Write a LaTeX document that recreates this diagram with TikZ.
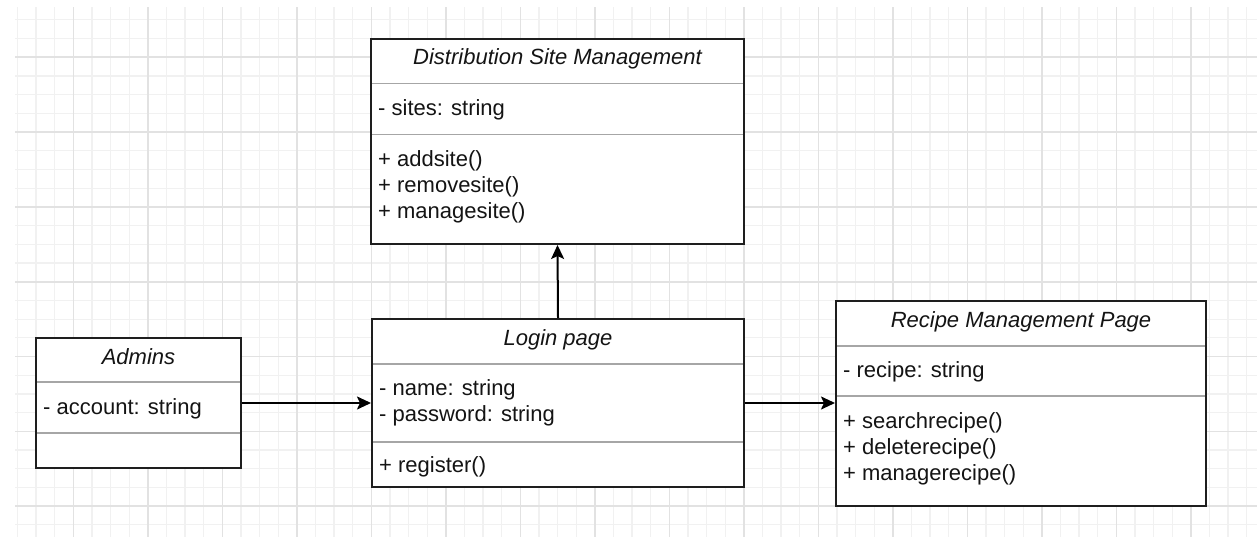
\documentclass[tikz,border=0pt]{standalone}
\usepackage{fontspec}
\setmainfont{Liberation Sans}
\usetikzlibrary{arrows.meta}
\definecolor{gridminor}{HTML}{F1F1F1}
\definecolor{gridmajor}{HTML}{E2E2E2}
\definecolor{boxline}{HTML}{1E1E1E}
\definecolor{sepline}{HTML}{A6A6A6}
\definecolor{ink}{HTML}{141414}
\tikzset{
  classbox/.style={draw=boxline, line width=2pt, fill=white, inner sep=0pt},
  separator/.style={draw=sepline, line width=1.5pt},
  title/.style={anchor=base, inner sep=0pt, text=ink, font=\fontsize{22}{26}\selectfont\itshape},
  member/.style={anchor=base west, inner sep=0pt, text=ink, font=\fontsize{22}{26}\selectfont},
  link/.style={draw=black, line width=2pt, -{Stealth[length=14pt, width=13pt, inset=3pt]}},
}
\begin{document}
\begin{tikzpicture}[x=1pt, y=-1pt]
\useasboundingbox (0,0) rectangle (1257,537);
\fill[white] (0,0) rectangle (1257,537);

% background grid: fine lines every 18.65 units, heavier every fourth
\begin{scope}
  \clip (15,8) rectangle (1257,537);
  \foreach \i in {-4,...,67} {
    \draw[gridminor, line width=1.2pt] ({73.3+18.625*\i},0) -- ({73.3+18.625*\i},537);
  }
  \foreach \i in {-3,...,27} {
    \draw[gridminor, line width=1.2pt] (0,{57.3+18.7*\i}) -- (1257,{57.3+18.7*\i});
  }
  \foreach \i in {-1,...,16} {
    \draw[gridmajor, line width=1.6pt] ({73.3+74.5*\i},0) -- ({73.3+74.5*\i},537);
  }
  \foreach \i in {-1,...,7} {
    \draw[gridmajor, line width=1.6pt] (0,{57.3+74.8*\i}) -- (1257,{57.3+74.8*\i});
  }
\end{scope}

% Distribution Site Management
\node[classbox, minimum width=373pt, minimum height=205pt] (dsm) at (557.5,141.5) {};
\draw[separator] (372,83.5) -- (743,83.5);
\draw[separator] (372,134.5) -- (743,134.5);
\node[title] (dsmT) at (557.5,65) {Distribution Site Management};
\node[member] (dsmA) at (378,115.5) {- sites: string};
\node[member] (dsmM1) at (378,166.5) {+ addsite()};
\node[member] (dsmM2) at (378,192.5) {+ removesite()};
\node[member] (dsmM3) at (378,218.5) {+ managesite()};

% Admins
\node[classbox, minimum width=205pt, minimum height=130pt] (admins) at (138.5,403) {};
\draw[separator] (37,382) -- (240,382);
\draw[separator] (37,433) -- (240,433);
\node[title] (admT) at (138.5,364.5) {Admins};
\node[member] (admA) at (43,414.5) {- account: string};

% Login page
\node[classbox, minimum width=372pt, minimum height=168pt] (login) at (558,403) {};
\draw[separator] (373,364) -- (743,364);
\draw[separator] (373,442) -- (743,442);
\node[title] (logT) at (558,345.5) {Login page};
\node[member] (logA1) at (379,395.5) {- name: string};
\node[member] (logA2) at (379,421.5) {- password: string};
\node[member] (logM1) at (379,472.5) {+ register()};

% Recipe Management Page
\node[classbox, minimum width=370pt, minimum height=205pt] (recipe) at (1021,403.5) {};
\draw[separator] (837,346) -- (1205,346);
\draw[separator] (837,396) -- (1205,396);
\node[title] (recT) at (1021,327.5) {Recipe Management Page};
\node[member] (recA) at (843,377.5) {- recipe: string};
\node[member] (recM1) at (843,428.5) {+ searchrecipe()};
\node[member] (recM2) at (843,454.5) {+ deleterecipe()};
\node[member] (recM3) at (843,480.5) {+ managerecipe()};

% associations
\draw[link] (admins.east) -- (login.west);
\draw[link] (login.east) -- (login.east -| recipe.west);
\draw[link] (login.north) -- (dsm.south);
\end{tikzpicture}
\end{document}
